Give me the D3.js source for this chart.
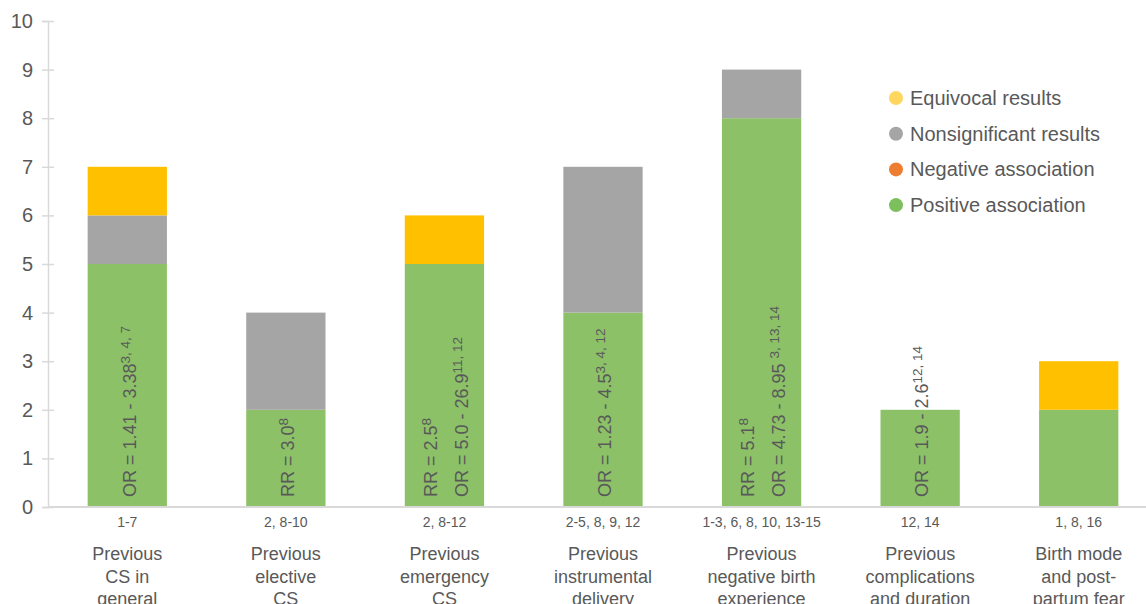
<!DOCTYPE html>
<html>
<head>
<meta charset="utf-8">
<script src="https://cdn.jsdelivr.net/npm/d3@7"></script>
<style>
  body { margin: 0; background: #fff; }
  svg text { font-family: "Liberation Sans", Arial, sans-serif; fill: #595959; }
</style>
</head>
<body>
<svg id="chart" width="1146" height="604"></svg>
<script>
// categories and their reference numbers
const categories = [
  ["Previous", "CS in", "general"],
  ["Previous", "elective", "CS"],
  ["Previous", "emergency", "CS"],
  ["Previous", "instrumental", "delivery"],
  ["Previous", "negative birth", "experience"],
  ["Previous", "complications", "and duration"],
  ["Birth mode", "and post-", "partum fear"]
];
const refs = ["1-7", "2, 8-10", "2, 8-12", "2-5, 8, 9, 12", "1-3, 6, 8, 10, 13-15", "12, 14", "1, 8, 16"];

// series values (number of studies)
const positive = [5, 2, 5, 4, 8, 2, 2];
const negative = [0, 0, 0, 0, 0, 0, 0];
const nonsignificant = [1, 2, 0, 3, 1, 0, 0];
const equivocal = [1, 0, 1, 0, 0, 0, 1];

const yTicks = [0, 1, 2, 3, 4, 5, 6, 7, 8, 9, 10];

// effect size labels inside bars: [text, superscript]
const barLabels = [
  [["OR = 1.41 - 3.38", "3, 4, 7"]],
  [["RR = 3.0", "8"]],
  [["RR = 2.5", "8"], ["OR = 5.0 - 26.9", "11, 12"]],
  [["OR = 1.23 - 4.5", "3, 4, 12"]],
  [["RR = 5.1", "8"], ["OR = 4.73 - 8.95 ", "3, 13, 14"]],
  [["OR = 1.9 - 2.6", "12, 14"]],
  []
];

const seriesNames = ["Positive association", "Negative association", "Nonsignificant results", "Equivocal results"];
const colors = ["#8CC168", "#ED7D31", "#A5A5A5", "#FFC000"];
const legendColors = ["#7CC05E", "#ED7D31", "#A5A5A5", "#FFD75E"];

const svg = d3.select("#chart");
const width = 1146;

const x = d3.scaleBand()
    .domain(d3.range(categories.length))
    .range([48, 1158])
    .paddingInner(0.5)
    .paddingOuter(0.25);

const y = d3.scaleLinear()
    .domain([0, 10])
    .range([507, 21]);

const table = categories.map((c, i) => ({
  i: i,
  s0: positive[i], s1: negative[i], s2: nonsignificant[i], s3: equivocal[i]
}));
const stack = d3.stack().keys(["s0", "s1", "s2", "s3"]);
const stacked = stack(table);

// bars
svg.append("g")
  .selectAll("g")
  .data(stacked)
  .join("g")
    .attr("fill", (d, k) => colors[k])
  .selectAll("rect")
  .data(d => d)
  .join("rect")
    .attr("x", d => x(d.data.i))
    .attr("y", d => y(d[1]))
    .attr("width", x.bandwidth())
    .attr("height", d => y(d[0]) - y(d[1]));

// y axis
const yAxis = svg.append("g")
    .attr("transform", "translate(48,0)")
    .call(d3.axisLeft(y).tickValues(yTicks).tickSize(6).tickPadding(9));
yAxis.select(".domain").attr("stroke", "#D9D9D9").attr("stroke-width", 1.5);
yAxis.selectAll(".tick line").attr("stroke", "#D9D9D9").attr("stroke-width", 1.5)
    .attr("x1", 6).attr("x2", -6);
yAxis.selectAll(".tick text")
    .attr("x", -15)
    .style("font-size", "20px")
    .style("font-family", "'Liberation Sans', Arial, sans-serif")
    .attr("fill", "#595959");

// baseline
svg.append("line")
    .attr("x1", 48).attr("x2", width)
    .attr("y1", y(0)).attr("y2", y(0))
    .attr("stroke", "#D9D9D9")
    .attr("stroke-width", 2);

// rotated labels in bars
barLabels.forEach((lines, i) => {
  const cx = x(i) + x.bandwidth() / 2;
  const n = lines.length;
  lines.forEach((ln, j) => {
    const lx = cx + (j - (n - 1) / 2) * 31 + 2;
    const t = svg.append("text")
        .attr("transform", `translate(${lx},${y(0) - 10}) rotate(-90)`)
        .attr("dy", "0.35em")
        .style("font-size", "18px");
    t.append("tspan").text(ln[0]);
    t.append("tspan")
        .attr("dy", "-0.45em")
        .style("font-size", "13.5px")
        .text(ln[1]);
  });
});

// category labels
categories.forEach((lines, i) => {
  const cx = x(i) + x.bandwidth() / 2;
  svg.append("text")
      .attr("x", cx).attr("y", 522)
      .attr("dy", "0.35em")
      .attr("text-anchor", "middle")
      .style("font-size", "14px")
      .text(refs[i]);
  lines.forEach((l, j) => {
    svg.append("text")
        .attr("x", cx).attr("y", 554 + j * 22.5)
        .attr("dy", "0.35em")
        .attr("text-anchor", "middle")
        .style("font-size", "18px")
        .text(l);
  });
});

// legend
const legendOrder = [3, 2, 1, 0];
const legend = svg.append("g").attr("transform", "translate(896,98)");
legendOrder.forEach((k, j) => {
  legend.append("circle")
      .attr("cx", 0).attr("cy", j * 35.7)
      .attr("r", 7)
      .attr("fill", legendColors[k]);
  legend.append("text")
      .attr("x", 14).attr("y", j * 35.7)
      .attr("dy", "0.35em")
      .style("font-size", "20px")
      .text(seriesNames[k]);
});
</script>
</body>
</html>
